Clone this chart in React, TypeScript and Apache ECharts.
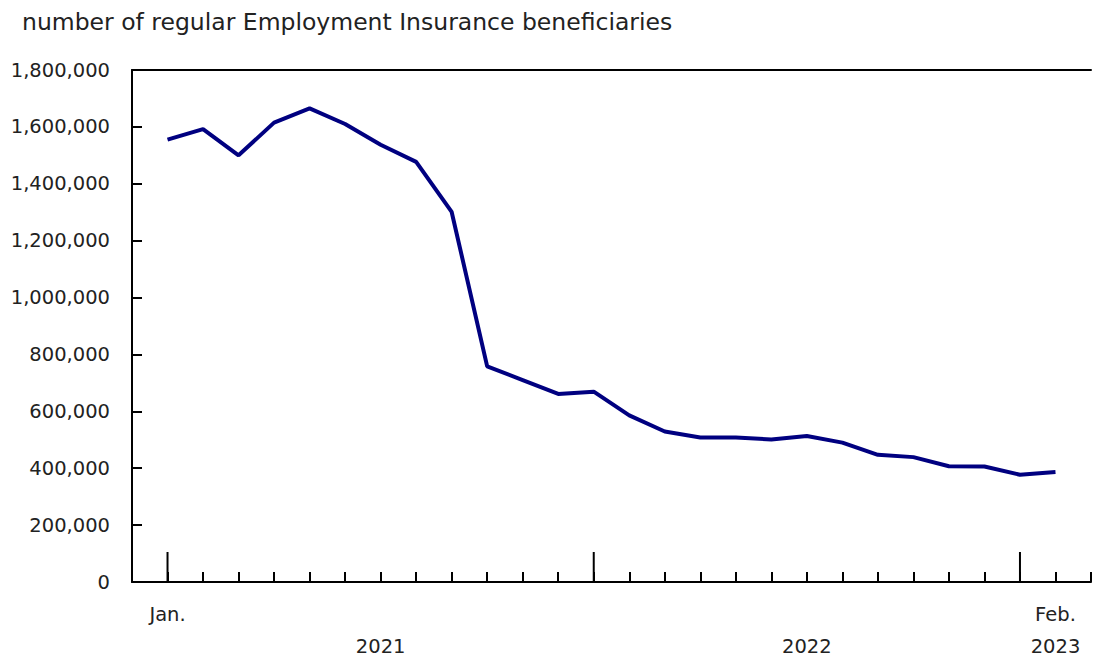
import React, { useEffect, useRef } from "react";
import * as echarts from "echarts";

const months = [
  "2021-01", "2021-02", "2021-03", "2021-04", "2021-05", "2021-06", "2021-07", "2021-08", "2021-09", "2021-10", "2021-11", "2021-12",
  "2022-01", "2022-02", "2022-03", "2022-04", "2022-05", "2022-06", "2022-07", "2022-08", "2022-09", "2022-10", "2022-11", "2022-12",
  "2023-01", "2023-02",
];
const beneficiaries = [
  1555000, 1592000, 1500000, 1615000, 1665000, 1610000, 1537000, 1477000, 1301000, 758000, 710000, 661000,
  669000, 586000, 529000, 508000, 508000, 501000, 513000, 490000, 447000, 439000, 407000, 406000,
  377000, 387000,
];
const majorTickIdx = [0, 12, 24];
const xLabels: Record<number, string> = { 0: "Jan.", 6: "\n2021", 18: "\n2022", 25: "Feb.\n2023" };
const titleText = "number of regular Employment Insurance beneficiaries";

const FONT = "DejaVu Sans, Verdana, sans-serif";
const TXT = "#222222";

export default function App() {
  const ref = useRef<HTMLDivElement>(null);
  useEffect(() => {
    if (!ref.current) return;
    const chart = echarts.init(ref.current, undefined, { renderer: "svg" });
    const data = beneficiaries.map((v, i) => [i, v]);
    chart.setOption({
      animation: false,
      title: {
        text: titleText,
        left: 17,
        top: 5,
        textStyle: { fontFamily: FONT, fontSize: 23.5, fontWeight: "normal", color: TXT },
      },
      grid: { left: 132, right: -8, top: 70, height: 520, containLabel: false },
      xAxis: [
        {
          type: "value",
          min: -1,
          max: 26,
          interval: 1,
          position: "bottom",
          axisLine: { show: true, onZero: false, lineStyle: { color: "#000", width: 2 } },
          axisTick: { show: true, inside: true, length: 10, lineStyle: { color: "#000", width: 2 } },
          splitLine: { show: false },
          axisLabel: {
            show: true,
            margin: 16,
            fontFamily: FONT,
            fontSize: 19.5,
            color: TXT,
            lineHeight: 32,
            showMinLabel: true,
            showMaxLabel: true,
            formatter: (v: number) => xLabels[Math.round(v)] ?? "",
          },
        },
        {
          type: "value",
          min: -1,
          max: 26,
          position: "top",
          axisLine: { show: true, onZero: false, lineStyle: { color: "#000", width: 2 } },
          axisTick: { show: false },
          axisLabel: { show: false },
          splitLine: { show: false },
        },
      ],
      yAxis: {
        type: "value",
        min: 0,
        max: 1800000,
        interval: 200000,
        axisLine: { show: true, onZero: false, lineStyle: { color: "#000", width: 2 } },
        axisTick: { show: true, inside: true, length: 10, lineStyle: { color: "#000", width: 2 } },
        splitLine: { show: false },
        axisLabel: {
          margin: 22,
          fontFamily: FONT,
          fontSize: 19.5,
          color: TXT,
          formatter: (v: number) => v.toLocaleString("en-US"),
        },
      },
      series: [
        {
          type: "line",
          name: "beneficiaries",
          data,
          showSymbol: false,
          symbol: "none",
          lineStyle: { color: "#000080", width: 4 },
          z: 3,
        },
        {
          type: "custom",
          name: "majorTicks",
          data: majorTickIdx.map((i) => [i, 0]),
          renderItem: (params: any, api: any) => {
            const p = api.coord([api.value(0), 0]);
            return {
              type: "line",
              shape: { x1: p[0], y1: p[1], x2: p[0], y2: p[1] - 30 },
              style: { stroke: "#000", lineWidth: 2 },
            };
          },
          z: 2,
          silent: true,
        },
      ],
    });
    return () => chart.dispose();
  }, []);
  return (
    <div
      ref={ref}
      style={{ position: "fixed", left: 0, top: 0, width: 1094, height: 662, background: "#fff" }}
    />
  );
}
